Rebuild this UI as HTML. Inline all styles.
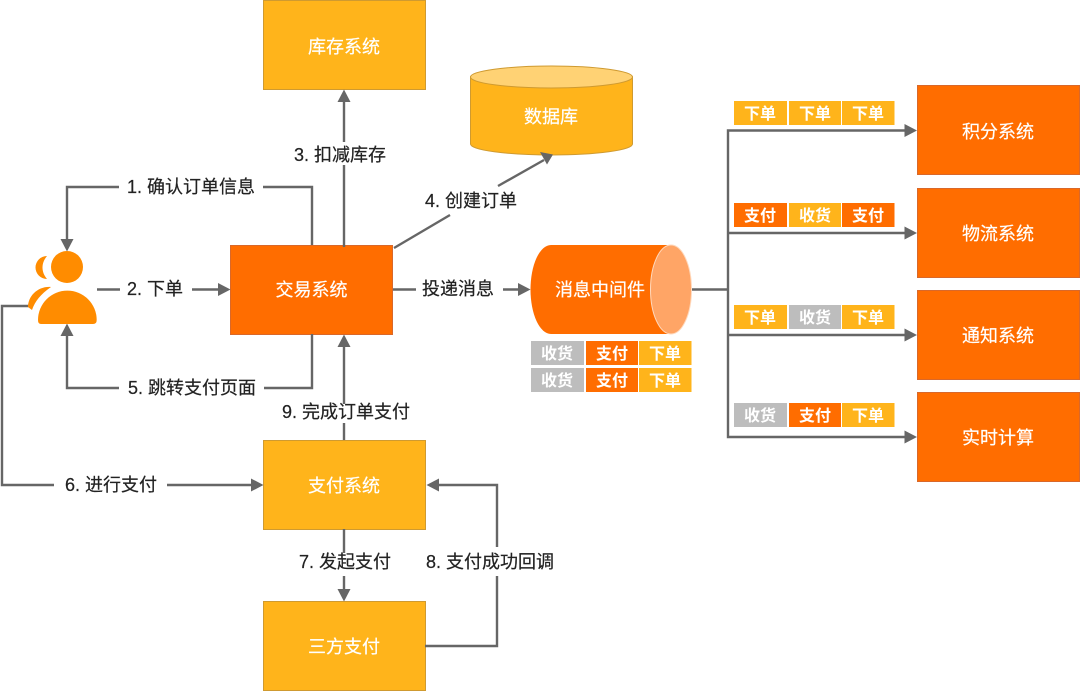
<!DOCTYPE html>
<html><head><meta charset="utf-8"><style>
html,body{margin:0;padding:0;background:#fff}
svg{display:block}
text{font-family:"Liberation Sans","Noto Sans CJK SC",sans-serif}
.n{font-size:18px;fill:#fff;stroke:#fff;stroke-width:.2;text-anchor:middle;transform:translateY(1px)}
.l{font-size:18px;fill:#222;stroke:#222;stroke-width:.2}
.t{font-size:16px;font-weight:700;fill:#fff;text-anchor:middle}
.w{fill:none;stroke:#666;stroke-width:2.4}
.o{fill:#ff6d00;stroke:#d9682a;stroke-width:1}
.y{fill:#ffb41b;stroke:#cf9a30;stroke-width:1}
.a{fill:#666}
</style></head><body>
<svg width="1080" height="691" viewBox="0 0 1080 691" xmlns="http://www.w3.org/2000/svg">
<!-- boxes -->
<rect class="y" x="263.5" y="0.5" width="162" height="89"/>
<rect class="o" x="230.5" y="245.5" width="162" height="89"/>
<rect class="y" x="263.5" y="440.5" width="162" height="89"/>
<rect class="y" x="263.5" y="601.5" width="162" height="89"/>
<rect class="o" x="917.5" y="85.5" width="162" height="89"/>
<rect class="o" x="917.5" y="188.5" width="162" height="89"/>
<rect class="o" x="917.5" y="290.5" width="162" height="89"/>
<rect class="o" x="917.5" y="392.5" width="162" height="89"/>
<!-- db -->
<path d="M470.5 77V144A81 11 0 0 0 632.5 144V77Z" fill="#ffb41b" stroke="#cf9a30"/>
<ellipse cx="551.5" cy="77" rx="81" ry="11" fill="#ffd274" stroke="#cf9a30"/>
<!-- queue -->
<path d="M551 245H671V334H551A20.500 44.500 0 0 1 551 245Z" fill="#ff6d00"/>
<ellipse cx="671" cy="289.5" rx="20.5" ry="44.5" fill="#ffa566" stroke="#ffd9bd"/>
<!-- connectors -->
<path class="w" d="M312 245V187H263M119 187H67V241"/>
<path class="a" d="M60.500 239H73.500L67 251.500Z"/>
<path class="w" d="M97 289.500H120M192 289.500H221"/>
<path class="a" d="M218 283V296L230.500 289.500Z"/>
<path class="w" d="M312 334V388H264M119 388H67V334"/>
<path class="a" d="M60.500 336H73.500L67 323.500Z"/>
<path class="w" d="M344 247V165M344 142V98"/>
<path class="a" d="M337.500 102H350.500L344 89.500Z"/>
<path class="w" d="M344 440V423M344 404V344"/>
<path class="a" d="M337.500 347H350.500L344 334.500Z"/>
<path class="w" d="M394 248L450 215M498 186L544 160"/>
<path class="a" d="M540 152L547 164.500L553 154.500Z"/>
<path class="w" d="M393 289.500H416M503 289.500H522"/>
<path class="a" d="M518 283V296L530.500 289.500Z"/>
<path class="w" d="M30 306H2V485H54M167 485H254"/>
<path class="a" d="M251 478.500V491.500L263.500 485Z"/>
<path class="w" d="M344 529V553M344 576V592"/>
<path class="a" d="M337.500 589H350.500L344 601.500Z"/>
<path class="w" d="M425 646H497V576M497 547V485H436"/>
<path class="a" d="M439 478.500V491.500L426.500 485Z"/>
<path class="w" d="M692 289.500H728M905 130.500H728V437H908M728 233H908M728 335H908"/>
<path class="a" d="M904.500 124V137L917 130.500ZM904.500 226.500V239.500L917 233ZM904.500 328.500V341.500L917 335ZM904.500 430.500V443.500L917 437Z"/>
<!-- person -->
<g fill="#ff8c00">
<circle cx="67" cy="267" r="16"/>
<path d="M41 324Q38 324 38 320A29 29 0 0 1 96.700 320Q96.700 324 93 324Z"/>
<path d="M47 256A11.500 11.500 0 0 0 47 279C41 272 41 263 47 256Z"/>
<path d="M51 287C38 286 28 296 28 307L32 310C35 301 41 294 51 287Z"/>
</g>
<!-- node labels -->
<text class="n" x="344" y="52">库存系统</text>
<text class="n" x="311.500" y="295">交易系统</text>
<text class="n" x="344" y="491">支付系统</text>
<text class="n" x="344" y="652">三方支付</text>
<text class="n" x="551" y="122">数据库</text>
<text class="n" x="600" y="295">消息中间件</text>
<text class="n" x="998" y="137">积分系统</text>
<text class="n" x="998" y="239">物流系统</text>
<text class="n" x="998" y="341">通知系统</text>
<text class="n" x="998" y="443">实时计算</text>
<!-- edge labels -->
<text class="l" x="127" y="193">1. 确认订单信息</text>
<text class="l" x="127" y="295">2. 下单</text>
<text class="l" x="294" y="161">3. 扣减库存</text>
<text class="l" x="425" y="207">4. 创建订单</text>
<text class="l" x="128" y="394">5. 跳转支付页面</text>
<text class="l" x="422" y="295">投递消息</text>
<text class="l" x="65" y="491">6. 进行支付</text>
<text class="l" x="299" y="568">7. 发起支付</text>
<text class="l" x="426" y="568">8. 支付成功回调</text>
<text class="l" x="282" y="418">9. 完成订单支付</text>
<!-- tags -->
<g>
<rect x="531" y="341" width="53" height="24" fill="#bdbdbd"/><rect x="586" y="341" width="52" height="24" fill="#ff6d00"/><rect x="639" y="341" width="52.500" height="24" fill="#ffb41b"/>
<rect x="531" y="368" width="53" height="24" fill="#bdbdbd"/><rect x="586" y="368" width="52" height="24" fill="#ff6d00"/><rect x="639" y="368" width="52.500" height="24" fill="#ffb41b"/>
<rect x="734" y="101" width="53" height="24" fill="#ffb41b"/><rect x="789" y="101" width="52" height="24" fill="#ffb41b"/><rect x="842" y="101" width="52.500" height="24" fill="#ffb41b"/>
<rect x="734" y="203" width="53" height="24" fill="#ff6d00"/><rect x="789" y="203" width="52" height="24" fill="#ffb41b"/><rect x="842" y="203" width="52.500" height="24" fill="#ff6d00"/>
<rect x="734" y="305" width="53" height="24" fill="#ffb41b"/><rect x="789" y="305" width="52" height="24" fill="#bdbdbd"/><rect x="842" y="305" width="52.500" height="24" fill="#ffb41b"/>
<rect x="734" y="403" width="53" height="24" fill="#bdbdbd"/><rect x="789" y="403" width="52" height="24" fill="#ff6d00"/><rect x="842" y="403" width="52.500" height="24" fill="#ffb41b"/>
</g>
<text class="t" x="557" y="359">收货</text><text class="t" x="612" y="359">支付</text><text class="t" x="665" y="359">下单</text>
<text class="t" x="557" y="386">收货</text><text class="t" x="612" y="386">支付</text><text class="t" x="665" y="386">下单</text>
<text class="t" x="760" y="119">下单</text><text class="t" x="815" y="119">下单</text><text class="t" x="868" y="119">下单</text>
<text class="t" x="760" y="221">支付</text><text class="t" x="815" y="221">收货</text><text class="t" x="868" y="221">支付</text>
<text class="t" x="760" y="323">下单</text><text class="t" x="815" y="323">收货</text><text class="t" x="868" y="323">下单</text>
<text class="t" x="760" y="421">收货</text><text class="t" x="815" y="421">支付</text><text class="t" x="868" y="421">下单</text>
</svg>
</body></html>
